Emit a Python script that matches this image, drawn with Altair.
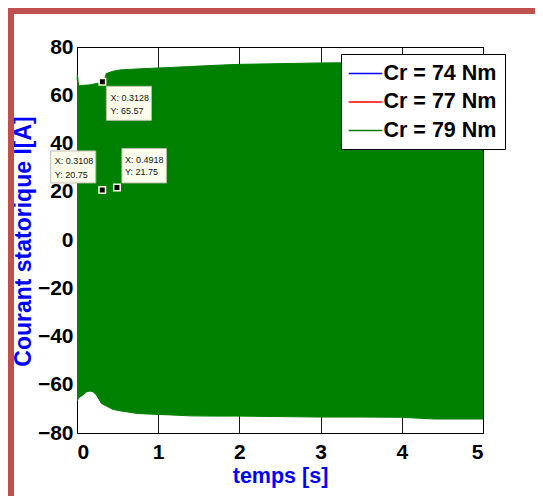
import altair as alt
import pandas as pd

# Envelope of the dense stator current (Cr = 79 Nm)
t = [0, 0.005, 0.02, 0.07, 0.12, 0.16, 0.2, 0.24, 0.3, 0.33, 0.36, 0.44, 0.53,
     0.74, 0.93, 1.15, 1.39, 1.7, 2.0, 2.5, 3.0, 3.5, 4.0, 4.4, 5.0]
i_max = [66.5, 68.4, 64.0, 64.1, 64.2, 64.3, 64.6, 64.9, 65.3, 65.6, 69.0, 69.9, 70.5,
         70.9, 71.2, 71.5, 71.9, 72.4, 72.8, 73.1, 73.4, 73.5, 73.5, 73.5, 73.5]
i_min = [-66.6, -66.6, -65.5, -64.3, -62.9, -62.6, -63.0, -64.3, -67.7, -68.3, -68.8, -70.2, -70.8,
         -71.9, -72.2, -72.5, -72.9, -73.0, -73.0, -73.2, -73.4, -73.4, -73.5, -74.2, -74.2]

series = ["Cr = 74 Nm", "Cr = 77 Nm", "Cr = 79 Nm"]
series_colors = ["#0000ff", "#ff0000", "#008000"]
shown_series = "Cr = 79 Nm"

# data tips
tip_x = [0.3128, 0.3108, 0.4918]
tip_y = [65.57, 20.75, 21.75]

x_ticks = [0, 1, 2, 3, 4, 5]
y_ticks = [-80, -60, -40, -20, 0, 20, 40, 60, 80]

FONT = "Liberation Sans"

env = pd.DataFrame({"t": t, "hi": i_max, "lo": i_min, "serie": shown_series})
edges = pd.concat([
    pd.DataFrame({"t": t, "i": i_max, "edge": "max", "serie": shown_series}),
    pd.DataFrame({"t": t, "i": i_min, "edge": "min", "serie": shown_series}),
])
tips = pd.DataFrame({"tx": tip_x, "ty": tip_y})

xs = alt.Scale(domain=[0, 5], nice=False, zero=False)
ys = alt.Scale(domain=[-80, 80], nice=False, zero=False)

x_axis = alt.Axis(values=x_ticks, format="d", title="temps [s]", titleX=203, titleY=43,
                  titleBaseline="middle", titleFontSize=21.5, labelPadding=8)
y_axis = alt.Axis(values=y_ticks, format="d", title="Courant statorique I[A]",
                  titleX=-53.5, titleY=194, titleAlign="center", titleBaseline="middle",
                  titleAngle=270, titleFontSize=23, labelPadding=4)

border = alt.Chart(alt.Data(values=[{}])).mark_rect(
    filled=False, color="#c0504d", strokeWidth=6
).encode(x=alt.value(-66), x2=alt.value(700), y=alt.value(-36), y2=alt.value(700))

band = alt.Chart(env).mark_area(color="#008000").encode(
    x=alt.X("t:Q", scale=xs, axis=x_axis),
    y=alt.Y("hi:Q", scale=ys, axis=y_axis),
    y2="lo:Q",
)

lines = alt.Chart(edges).mark_line(strokeWidth=1).encode(
    x=alt.X("t:Q", scale=xs),
    y=alt.Y("i:Q", scale=ys),
    detail="edge:N",
    color=alt.Color(
        "serie:N",
        scale=alt.Scale(domain=series, range=series_colors),
        legend=alt.Legend(
            title=None, orient="none", legendX=264, legendY=7,
            fillColor="white", strokeColor="black", padding=8,
            labelFont=FONT, labelFontSize=21.5, labelFontWeight="bold", labelColor="black",
            symbolType="M-1.6,0H1.6", symbolSize=441, symbolStrokeWidth=1.3,
            symbolOffset=5, labelOffset=6.5,
            rowPadding=6.5, labelLimit=300,
        ),
    ),
)

# data tip boxes (offsets relative to the tip point, in pixels)
tip_style = [
    dict(box=(4, 49, 4.5, 38.5), tx=8, ty=(16, 29)),
    dict(box=(-51.5, -6.5, -39, -7), tx=-47.5, ty=(-29, -15)),
    dict(box=(5, 49.5, -39, -4.6), tx=8, ty=(-28, -16)),
]

layers = [border, band, lines]
for k, st in enumerate(tip_style):
    one = tips.iloc[[k]]
    x0, x1, y0, y1 = st["box"]
    layers.append(
        alt.Chart(one).mark_rect(fill="#ffffee", stroke="#bdbdad", strokeWidth=1,
                                 xOffset=x0, x2Offset=x1, yOffset=y0, y2Offset=y1).encode(
            x=alt.X("tx:Q", scale=xs), x2="tx:Q", y=alt.Y("ty:Q", scale=ys), y2="ty:Q")
    )
    for line, dy in zip(["X", "Y"], st["ty"]):
        fmt = ".4f" if line == "X" else ".2f"
        field = "tx" if line == "X" else "ty"
        layers.append(
            alt.Chart(one).transform_calculate(
                lab=f"'{line}: ' + format(datum.{field}, '{fmt}')"
            ).mark_text(align="left", baseline="middle", dx=st["tx"], dy=dy,
                        font=FONT, fontSize=9, color="#111111").encode(
                x=alt.X("tx:Q", scale=xs), y=alt.Y("ty:Q", scale=ys), text="lab:N")
        )

markers = alt.Chart(tips).mark_square(size=42, fill="black", stroke="#ffffee",
                                      strokeWidth=1.5, opacity=1).encode(
    x=alt.X("tx:Q", scale=xs), y=alt.Y("ty:Q", scale=ys))
layers.append(markers)

chart = alt.layer(*layers).properties(
    width=406, height=386,
    autosize=alt.AutoSizeParams(type="none"),
    padding={"left": 69, "top": 39, "right": 52, "bottom": 63},
    background="white",
).configure_view(
    stroke="black", strokeWidth=1
).configure_axis(
    labelFont=FONT, labelFontSize=21, labelFontWeight="bold", labelColor="black",
    titleFont=FONT, titleFontWeight="bold", titleColor="#0000ff",
    grid=True, gridColor="black", gridWidth=1, gridOpacity=0.9,
    ticks=False, domain=False,
)

chart.save("out.html", embed_options={"renderer": "svg", "actions": False})
